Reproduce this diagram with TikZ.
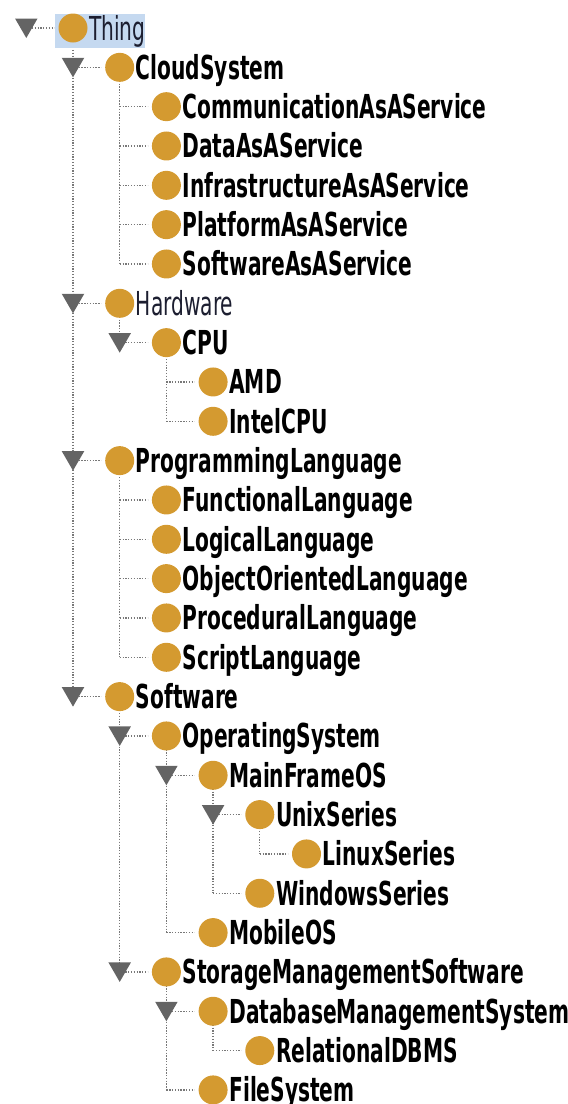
\documentclass[tikz,border=0pt]{standalone}
\usepackage{fontspec}
\usetikzlibrary{calc,shapes.geometric,backgrounds}
\newfontfamily\condfont[FakeStretch=0.68,BoldFont={DejaVu Sans Condensed Bold}]{DejaVu Sans Condensed}
\definecolor{gold}{RGB}{212,154,48}
\definecolor{togglegray}{RGB}{100,100,100}
\definecolor{dotgray}{RGB}{120,120,120}
\definecolor{selblue}{RGB}{197,217,240}
\definecolor{plainink}{RGB}{28,30,48}
% place a class bullet with its label: name, level, row, text, label style
\newcommand\mkclass[5]{%
  \node[bullet] (c-#1) at ({73+46.7*#2},{28+39.33*#3}) {};
  \node[#5] (t-#1) at ($(c-#1)+(16,12)$) {#4};}
% expand toggle left of a bullet
\newcommand\mktoggle[1]{%
  \node[toggle] (g-#1) at ($(c-#1)+(-46.7,-3)$) {};}
\begin{document}
\begin{tikzpicture}[x=1pt,y=-1pt,
  bullet/.style={circle,fill=gold,draw=none,minimum size=29pt,inner sep=0pt},
  toggle/.style={regular polygon,regular polygon sides=3,shape border rotate=180,
    fill=togglegray,draw=none,minimum size=26pt,inner sep=0pt},
  boldlbl/.style={anchor=base west,inner sep=0pt,
    font=\condfont\bfseries\fontsize{33}{33}\selectfont,text=black},
  plainlbl/.style={anchor=base west,inner sep=0pt,
    font=\condfont\fontsize{33}{33}\selectfont,text=plainink},
  dotline/.style={draw=dotgray,line width=1.3pt,dash pattern=on 1.3pt off 1.5pt}]
\useasboundingbox (0,0) rectangle (568,1104);
\fill[selblue] (55,14) rectangle (145,48);

\mkclass{thing}{0}{0}{Thing}{plainlbl}
\mkclass{cloud}{1}{1}{CloudSystem}{boldlbl}
\mkclass{caas}{2}{2}{CommunicationAsAService}{boldlbl}
\mkclass{daas}{2}{3}{DataAsAService}{boldlbl}
\mkclass{iaas}{2}{4}{InfrastructureAsAService}{boldlbl}
\mkclass{paas}{2}{5}{PlatformAsAService}{boldlbl}
\mkclass{saas}{2}{6}{SoftwareAsAService}{boldlbl}
\mkclass{hw}{1}{7}{Hardware}{plainlbl}
\mkclass{cpu}{2}{8}{CPU}{boldlbl}
\mkclass{amd}{3}{9}{AMD}{boldlbl}
\mkclass{intel}{3}{10}{IntelCPU}{boldlbl}
\mkclass{pl}{1}{11}{ProgrammingLanguage}{boldlbl}
\mkclass{func}{2}{12}{FunctionalLanguage}{boldlbl}
\mkclass{logic}{2}{13}{LogicalLanguage}{boldlbl}
\mkclass{oo}{2}{14}{ObjectOrientedLanguage}{boldlbl}
\mkclass{proc}{2}{15}{ProceduralLanguage}{boldlbl}
\mkclass{script}{2}{16}{ScriptLanguage}{boldlbl}
\mkclass{sw}{1}{17}{Software}{boldlbl}
\mkclass{os}{2}{18}{OperatingSystem}{boldlbl}
\mkclass{mf}{3}{19}{MainFrameOS}{boldlbl}
\mkclass{unix}{4}{20}{UnixSeries}{boldlbl}
\mkclass{linux}{5}{21}{LinuxSeries}{boldlbl}
\mkclass{win}{4}{22}{WindowsSeries}{boldlbl}
\mkclass{mobile}{3}{23}{MobileOS}{boldlbl}
\mkclass{sms}{2}{24}{StorageManagementSoftware}{boldlbl}
\mkclass{dbms}{3}{25}{DatabaseManagementSystem}{boldlbl}
\mkclass{rdbms}{4}{26}{RelationalDBMS}{boldlbl}
\mkclass{fs}{3}{27}{FileSystem}{boldlbl}

\begin{scope}[on background layer]
  % vertical guides: parent bullet down to its last child
  \foreach \p/\l in {thing/sw,cloud/saas,hw/cpu,cpu/intel,pl/script,sw/sms,
                     os/mobile,mf/win,unix/linux,sms/fs,dbms/rdbms}
    {\draw[dotline] ([yshift=4pt]c-\p.south) -- (c-\p |- c-\l);}
  % horizontal branches: guide to child bullet
  \foreach \p/\c in {cloud/caas,cloud/daas,cloud/iaas,cloud/paas,cloud/saas,
                     thing/cloud,thing/hw,thing/pl,thing/sw,hw/cpu,cpu/amd,cpu/intel,
                     pl/func,pl/logic,pl/oo,pl/proc,pl/script,sw/os,sw/sms,
                     os/mf,os/mobile,mf/unix,mf/win,unix/linux,sms/dbms,sms/fs,
                     dbms/rdbms}
    {\draw[dotline] (c-\p |- c-\c) -- ([xshift=-4pt]c-\c.west);}
  \draw[dotline] ($(c-thing)+(-46.7,0)$) -- ([xshift=-4pt]c-thing.west);
\end{scope}

\foreach \n in {thing,cloud,hw,cpu,pl,sw,os,mf,unix,sms,dbms}
  {\mktoggle{\n}}
\end{tikzpicture}
\end{document}
